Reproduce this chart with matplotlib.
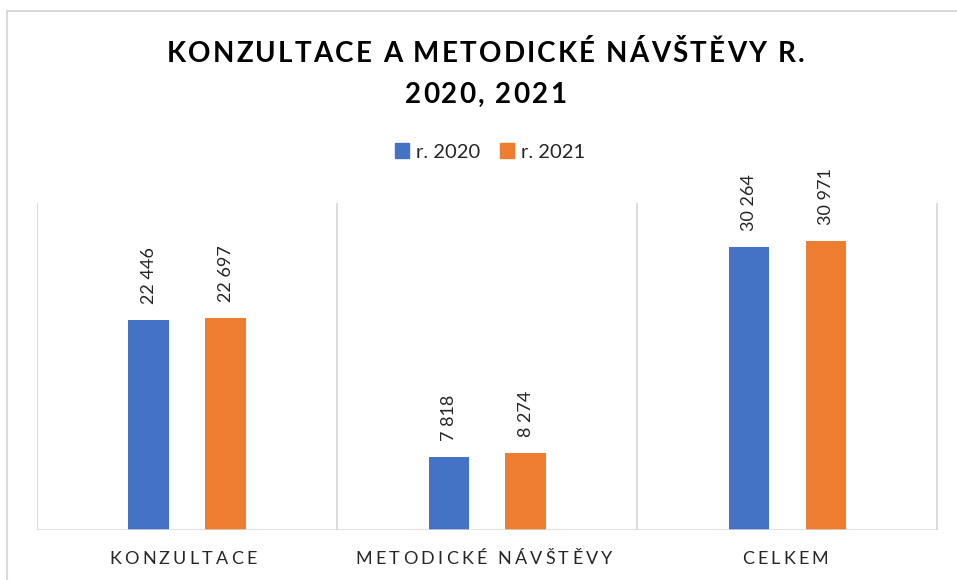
import matplotlib
matplotlib.use("Agg")
import matplotlib.pyplot as plt
from matplotlib.font_manager import FontProperties, findfont
from matplotlib.ft2font import LOAD_NO_HINTING
from matplotlib import font_manager
from matplotlib.patches import Rectangle
import numpy as np

categories = ["KONZULTACE", "METODICKÉ NÁVŠTĚVY", "CELKEM"]
series_names = ["r. 2020", "r. 2021"]
values_2020 = [22446, 7818, 30264]
values_2021 = [22697, 8274, 30971]
title_lines = ["KONZULTACE A METODICKÉ NÁVŠTĚVY R.", "2020, 2021"]

BLUE = "#4472C4"
ORANGE = "#ED7D31"
GRID = "#D9D9D9"
TXT = "#000000"

W, H, DPI = 957, 580, 100
fig = plt.figure(figsize=(W / DPI, H / DPI), dpi=DPI)
fig.patch.set_facecolor("white")

# outer chart frame
fig.patches.append(Rectangle((7 / W, -0.1), 1.2, (H - 11) / H + 0.1,
                             transform=fig.transFigure, fill=False,
                             edgecolor=GRID, linewidth=1.5))

ax = fig.add_axes([37 / W, (H - 530) / H, (937.5 - 37) / W, (530 - 203) / H])
x = np.arange(len(categories))
bw = 0.135
off = 0.128
b1 = ax.bar(x - off, values_2020, bw, color=BLUE, label=series_names[0], zorder=3)
b2 = ax.bar(x + off, values_2021, bw, color=ORANGE, label=series_names[1], zorder=3)
ax.set_xlim(-0.5, len(categories) - 0.5)
ax.set_ylim(0, 35000)
for s in ax.spines.values():
    s.set_visible(False)
ax.set_xticks([])
ax.set_yticks([])
for gx in np.arange(-0.5, len(categories), 1.0):
    ax.axvline(gx, color=GRID, lw=1.3, zorder=1)
ax.axhline(0, color=GRID, lw=1.8, zorder=4)


def fmt(v):
    return f"{v:,}".replace(",", " ")


label_font = "Lato"
for bars, vals in ((b1, values_2020), (b2, values_2021)):
    for rect, v in zip(bars, vals):
        ax.annotate(fmt(v), (rect.get_x() + rect.get_width() / 2, rect.get_height()),
                    xytext=(0, 16), textcoords="offset pixels", rotation=90,
                    ha="center", va="bottom", fontsize=13, family=label_font,
                    color="#262626", zorder=5)


def advance_widths(text, prop):
    fpath = findfont(prop)
    font = font_manager.get_font(fpath)
    font.set_size(prop.get_size_in_points(), DPI)
    ws = []
    for ch in text:
        g = font.load_char(ord(ch), flags=LOAD_NO_HINTING)
        ws.append(g.linearHoriAdvance / 65536.0)
    return ws


def spaced_text(cx, baseline_y_top, text, prop, spacing, color):
    ws = advance_widths(text, prop)
    total = sum(ws) + spacing * (len(text) - 1)
    xpos = cx - total / 2
    for ch, w in zip(text, ws):
        if ch != " ":
            fig.text(xpos / W, (H - baseline_y_top) / H, ch, fontproperties=prop,
                     color=color, ha="left", va="baseline")
        xpos += w + spacing
    return total


title_prop = FontProperties(family="Lato", weight="bold", size=20)
spaced_text(485.5, 62, title_lines[0], title_prop, 2.2, TXT)
spaced_text(485.5, 103, title_lines[1], title_prop, 2.2, TXT)

cat_prop = FontProperties(family="Lato", size=13)
cat_centers_px = [187 - 4, 487 - 3, 787 - 2]
for c, cx in zip(categories, cat_centers_px):
    spaced_text(cx, 564, c, cat_prop, 3.2, "#262626")

handles = [Rectangle((0, 0), 1, 1, color=BLUE), Rectangle((0, 0), 1, 1, color=ORANGE)]
leg = fig.legend(handles, series_names, loc="center", bbox_to_anchor=(490 / W, (H - 152) / H),
                 ncol=2, frameon=False, prop=FontProperties(family="Lato", size=14.5),
                 handlelength=0.7, handleheight=0.7, handletextpad=0.35,
                 columnspacing=1.0, labelcolor="#262626")

fig.savefig("out.png", dpi=DPI)
